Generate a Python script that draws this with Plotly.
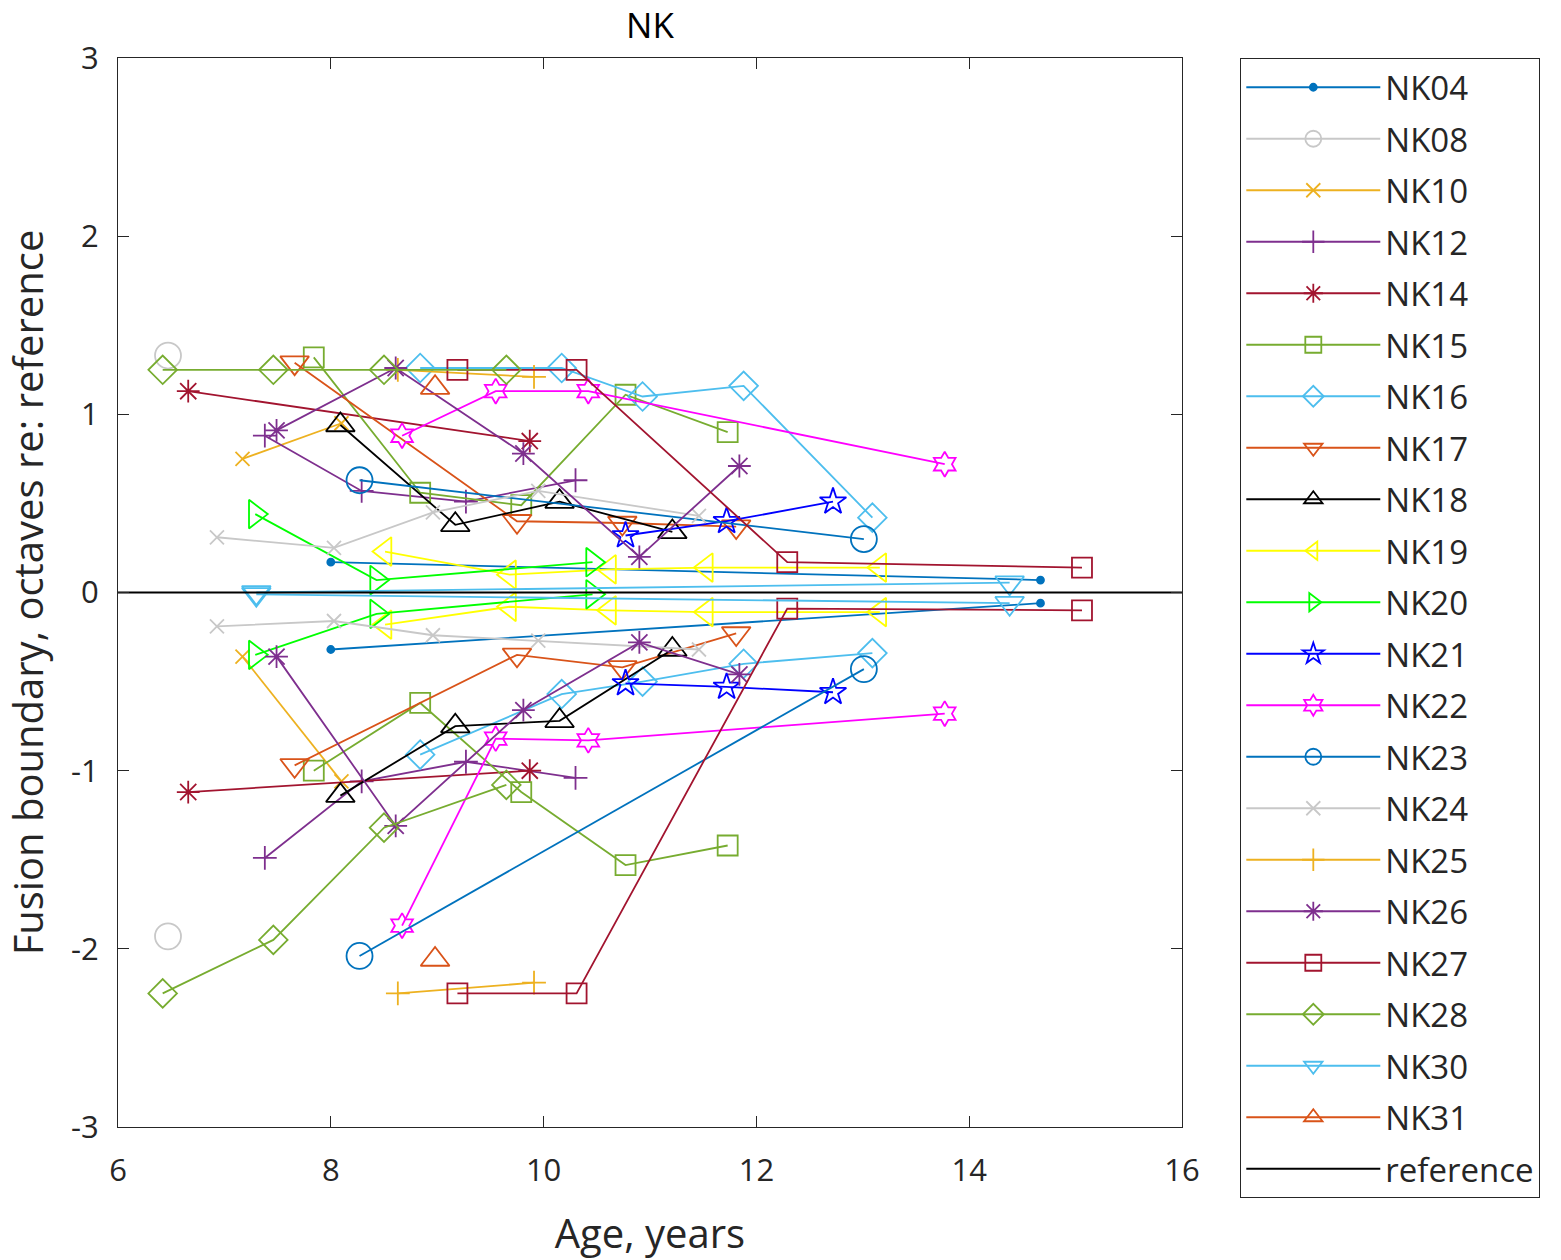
import plotly.graph_objects as go

# ---- data (age in years; upper / lower fusion boundary, octaves re: reference) ----
NK04_age = [8.0, 14.67]
NK04_up = [0.17, 0.07]
NK04_lo = [-0.32, -0.06]

NK08_age = [6.47]
NK08_up = [1.33]
NK08_lo = [-1.93]

NK10_age = [7.17, 8.1]
NK10_up = [0.75, 0.95]
NK10_lo = [-0.36, -1.06]

NK12_age = [7.38, 8.29, 9.27, 10.3]
NK12_up = [0.88, 0.57, 0.51, 0.63]
NK12_lo = [-1.49, -1.06, -0.95, -1.04]

NK14_age = [6.66, 9.87]
NK14_up = [1.13, 0.85]
NK14_lo = [-1.12, -1.0]

NK15_age = [7.84, 8.84, 9.79, 10.77, 11.73]
NK15_up = [1.32, 0.56, 0.49, 1.11, 0.90]
NK15_lo = [-1.0, -0.62, -1.12, -1.53, -1.42]

NK16_age = [8.84, 10.17, 10.93, 11.88, 13.09]
NK16_up = [1.26, 1.26, 1.10, 1.16, 0.42]
NK16_lo = [-0.91, -0.57, -0.50, -0.40, -0.34]

NK17_age = [7.66, 9.75, 10.74, 11.81]
NK17_up = [1.29, 0.40, 0.39, 0.37]
NK17_lo = [-0.97, -0.35, -0.42, -0.23]

NK18_age = [8.09, 9.17, 10.15, 11.21]
NK18_up = [0.94, 0.38, 0.51, 0.34]
NK18_lo = [-1.14, -0.75, -0.72, -0.32]

NK19_age = [8.51, 9.68, 10.62, 11.53, 13.16]
NK19_up = [0.23, 0.10, 0.13, 0.14, 0.14]
NK19_lo = [-0.18, -0.08, -0.10, -0.11, -0.11]

NK20_age = [7.29, 8.43, 10.46]
NK20_up = [0.44, 0.07, 0.17]
NK20_lo = [-0.35, -0.12, -0.01]

NK21_age = [10.77, 11.72, 12.72]
NK21_up = [0.32, 0.40, 0.51]
NK21_lo = [-0.51, -0.53, -0.56]

NK22_age = [8.67, 9.55, 10.42, 13.77]
NK22_up = [0.88, 1.13, 1.13, 0.72]
NK22_lo = [-1.87, -0.82, -0.83, -0.68]

NK23_age = [8.27, 13.01]
NK23_up = [0.63, 0.30]
NK23_lo = [-2.04, -0.43]

NK24_age = [6.93, 8.03, 8.96, 9.95, 11.46]
NK24_up = [0.31, 0.25, 0.45, 0.57, 0.43]
NK24_lo = [-0.19, -0.16, -0.24, -0.27, -0.32]

NK25_age = [8.63, 9.91]
NK25_up = [1.25, 1.21]
NK25_lo = [-2.25, -2.19]

NK26_age = [7.49, 8.61, 9.81, 10.90, 11.84]
NK26_up = [0.91, 1.26, 0.78, 0.20, 0.71]
NK26_lo = [-0.36, -1.31, -0.66, -0.28, -0.46]

NK27_age = [9.19, 10.31, 12.29, 15.06]
NK27_up = [1.25, 1.25, 0.17, 0.14]
NK27_lo = [-2.25, -2.25, -0.09, -0.10]

NK28_age = [6.42, 7.46, 8.5, 9.65]
NK28_up = [1.25, 1.25, 1.25, 1.25]
NK28_lo = [-2.25, -1.95, -1.32, -1.08]

NK30_age = [7.3, 14.38]
NK30_up = [0.0, 0.055]
NK30_lo = [-0.01, -0.06]

NK31_age = [8.98]
NK31_up = [1.15]
NK31_lo = [-2.06]

subjects = ["NK04", "NK08", "NK10", "NK12", "NK14", "NK15", "NK16", "NK17", "NK18", "NK19",
            "NK20", "NK21", "NK22", "NK23", "NK24", "NK25", "NK26", "NK27", "NK28", "NK30", "NK31"]

x_ticks = [6, 8, 10, 12, 14, 16]
y_ticks = [-3, -2, -1, 0, 1, 2, 3]
y_ticklabels = ["-3", "-2", "-1", "0", "1", "2", "3"]

# ---- styles ----
styles = {
    "NK04": ("#0072BD", "circle", 7),
    "NK08": ("#C8C8C8", "circle-open", 26),
    "NK10": ("#EDB120", "x-thin-open", 14),
    "NK12": ("#7E2F8E", "cross-thin-open", 17),
    "NK14": ("#A2142F", "asterisk-open", 19),
    "NK15": ("#77AC30", "square-open", 20),
    "NK16": ("#4DBEEE", "diamond-open", 22),
    "NK17": ("#D95319", "triangle-down-open", 25),
    "NK18": ("#000000", "triangle-up-open", 25),
    "NK19": ("#FFFF00", "triangle-left-open", 25),
    "NK20": ("#00FF00", "triangle-right-open", 25),
    "NK21": ("#0000FF", "star-open", 20),
    "NK22": ("#FF00FF", "hexagram-open", 19),
    "NK23": ("#0072BD", "circle-open", 26),
    "NK24": ("#C8C8C8", "x-thin-open", 14),
    "NK25": ("#EDB120", "cross-thin-open", 17),
    "NK26": ("#7E2F8E", "asterisk-open", 19),
    "NK27": ("#A2142F", "square-open", 20),
    "NK28": ("#77AC30", "diamond-open", 22),
    "NK30": ("#4DBEEE", "triangle-down-open", 25),
    "NK31": ("#D95319", "triangle-up-open", 25),
}

data = {s: (globals()[s + "_age"], globals()[s + "_up"], globals()[s + "_lo"]) for s in subjects}

FONT = "Open Sans"
TXT = "#262626"

fig = go.Figure()
for s in subjects:
    age, up, lo = data[s]
    color, sym, size = styles[s]
    xs = list(age) + [None] + list(age)
    ys = list(up) + [None] + list(lo)
    fig.add_trace(go.Scatter(
        x=xs, y=ys, name=s, mode="lines+markers", connectgaps=False,
        legendgroup=s,
        line=dict(color=color, width=1.8),
        marker=dict(symbol=sym, size=size, color=color,
                    line=dict(color=color, width=1.8)),
    ))

fig.add_trace(go.Scatter(
    x=[6, 16], y=[0, 0], name="reference", mode="lines", legendgroup="reference",
    line=dict(color="#000000", width=1.8),
))

axis_common = dict(
    showgrid=False, zeroline=False, showline=True, linecolor=TXT, linewidth=1.3,
    mirror="ticks", ticks="inside", ticklen=11, tickcolor=TXT, tickwidth=1.3,
    tickfont=dict(family=FONT, size=31, color=TXT), automargin=False,
)

fig.update_layout(
    width=1561, height=1260,
    margin=dict(l=118, r=379, t=58, b=133, autoexpand=False),
    paper_bgcolor="white", plot_bgcolor="white",
    title=dict(text="NK", x=(118 + 1182) / 2 / 1561, xanchor="center",
               y=1 - 26 / 1260, yanchor="middle", yref="container", xref="container",
               font=dict(family=FONT, size=35, color="#000000")),
    xaxis=dict(range=[6, 16], tickvals=x_ticks, ticktext=[str(t) for t in x_ticks],
               ticklabelstandoff=16,
               title=dict(text="Age, years", font=dict(family=FONT, size=40, color=TXT), standoff=32),
               **axis_common),
    yaxis=dict(range=[-3, 3], tickvals=y_ticks, ticktext=y_ticklabels,
               ticklabelstandoff=12,
               title=dict(text="Fusion boundary, octaves re: reference",
                          font=dict(family=FONT, size=40, color=TXT), standoff=25),
               **axis_common),
    showlegend=True,
    legend=dict(x=(1240 - 118) / 1064, y=1.0,
                xanchor="left", yanchor="top", maxheight=1200,
                bordercolor=TXT, borderwidth=1.3, bgcolor="white",
                font=dict(family=FONT, size=33, color=TXT),
                itemwidth=134, tracegroupgap=5.6, traceorder="grouped",
                itemsizing="trace"),
)

fig.write_html("out.html")
